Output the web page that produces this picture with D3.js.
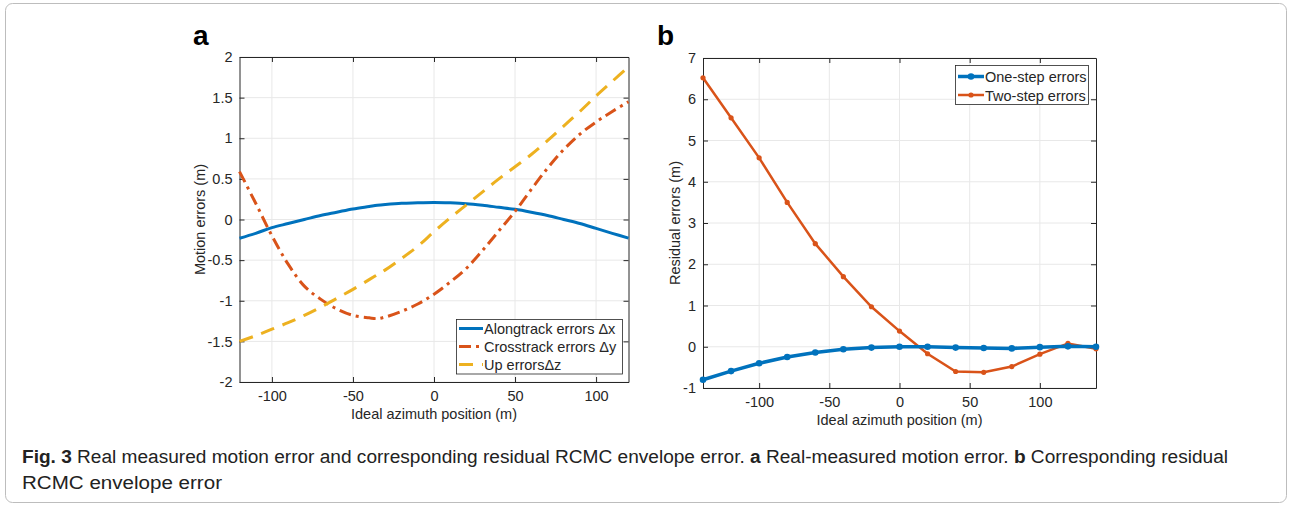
<!DOCTYPE html>
<html><head><meta charset="utf-8">
<script src="https://cdn.jsdelivr.net/npm/d3@7"></script>
<style>body{margin:0;background:#fff;} text{font-family:"Liberation Sans",Arial,sans-serif;}</style>
</head><body>
<svg id="c" width="1291" height="507"></svg>
<script>
// ---- Data panel a ----
const azA = [-120,-110,-100,-90,-80,-70,-60,-50,-40,-35,-30,-20,-10,0,10,20,30,40,50,60,70,80,90,100,110,120];
const alongtrack = [-0.23,-0.17,-0.1,-0.05,0.0,0.05,0.09,0.13,0.16,0.175,0.185,0.2,0.205,0.21,0.205,0.195,0.175,0.15,0.125,0.09,0.05,0.0,-0.05,-0.11,-0.17,-0.23];
const crosstrack = [0.59,0.2,-0.2,-0.55,-0.82,-0.98,-1.1,-1.18,-1.21,-1.22,-1.2,-1.13,-1.04,-0.92,-0.77,-0.6,-0.38,-0.14,0.1,0.37,0.63,0.86,1.05,1.2,1.33,1.45];
const uperr = [-1.5,-1.43,-1.35,-1.27,-1.18,-1.08,-0.97,-0.86,-0.74,-0.68,-0.62,-0.48,-0.33,-0.15,0.02,0.18,0.34,0.5,0.65,0.8,0.97,1.15,1.33,1.52,1.7,1.88];
const yTicksA = [-2,-1.5,-1,-0.5,0,0.5,1,1.5,2];
const xTicksA = [-100,-50,0,50,100];
// ---- Data panel b ----
const azB = [-140,-120,-100,-80,-60,-40,-20,0,20,40,60,80,100,120,140];
const oneStep = [-0.8,-0.59,-0.4,-0.25,-0.14,-0.06,-0.02,0,0,-0.02,-0.03,-0.04,-0.01,0.01,0];
const twoStep = [6.52,5.55,4.58,3.5,2.5,1.7,0.97,0.38,-0.17,-0.6,-0.62,-0.48,-0.18,0.08,-0.05];
const yTicksB = [-1,0,1,2,3,4,5,6,7];
const xTicksB = [-100,-50,0,50,100];

const C1="#0072BD", C2="#D95319", C3="#EDB120";
const svg = d3.select("#c");

svg.append("rect").attr("x",5.5).attr("y",3.5).attr("width",1281).attr("height",499)
  .attr("rx",7).attr("fill","none").attr("stroke","#bdbdbd").attr("stroke-width",1);

const fmt = d=>String(d);
function panel(o){
  const g = svg.append("g");
  const x = d3.scaleLinear().domain(o.xd).range([o.l,o.r]);
  const y = d3.scaleLinear().domain(o.yd).range([o.b,o.t]);
  g.append("g").selectAll("line").data(o.xt).join("line")
    .attr("x1",d=>x(d)).attr("x2",d=>x(d)).attr("y1",o.t).attr("y2",o.b)
    .attr("stroke","#e8e8e8").attr("stroke-width",1);
  g.append("g").selectAll("line").data(o.yt).join("line")
    .attr("y1",d=>y(d)).attr("y2",d=>y(d)).attr("x1",o.l).attr("x2",o.r)
    .attr("stroke","#e8e8e8").attr("stroke-width",1);
  const b = g.append("g").attr("transform",`translate(0,${o.b})`)
    .call(d3.axisBottom(x).tickValues(o.xt).tickSizeInner(-5).tickSizeOuter(0).tickPadding(9).tickFormat(fmt));
  const t = g.append("g").attr("transform",`translate(0,${o.t})`)
    .call(d3.axisTop(x).tickValues(o.xt).tickSizeInner(-5).tickSizeOuter(0).tickFormat(""));
  const lft = g.append("g").attr("transform",`translate(${o.l},0)`)
    .call(d3.axisLeft(y).tickValues(o.yt).tickSizeInner(-5).tickSizeOuter(0).tickPadding(7).tickFormat(fmt));
  const rgt = g.append("g").attr("transform",`translate(${o.r},0)`)
    .call(d3.axisRight(y).tickValues(o.yt).tickSizeInner(-5).tickSizeOuter(0).tickFormat(""));
  [b,t,lft,rgt].forEach(a=>{
    a.select(".domain").attr("stroke","#262626");
    a.selectAll(".tick line").attr("stroke","#262626");
    a.selectAll("text").attr("fill","#262626").attr("font-size",14.5).attr("font-family","Liberation Sans, Arial, sans-serif");
  });
  g.append("text").attr("x",(o.l+o.r)/2).attr("y",o.b+37).attr("text-anchor","middle")
    .attr("font-size",14.5).attr("fill","#262626").text(o.xl);
  g.append("text").attr("transform",`translate(${o.yx},${(o.t+o.b)/2}) rotate(-90)`)
    .attr("text-anchor","middle").attr("font-size",14.5).attr("fill","#262626").text(o.yl);
  g.append("text").attr("x",o.lx).attr("y",45).attr("font-size",28).attr("font-weight","bold").text(o.lab);
  const plot = g.append("g");
  return {x,y,plot,g};
}

// Panel a
const A = panel({xd:[-120,120], yd:[-2,2], l:239.5, r:628.5, t:57, b:382, xt:xTicksA, yt:yTicksA,
  xl:"Ideal azimuth position (m)", yl:"Motion errors (m)", yx:205, lx:193, lab:"a"});
const lineA = (arr)=>d3.line().x((d,i)=>A.x(azA[i])).y(d=>A.y(d)).curve(d3.curveCatmullRom.alpha(0.5))(arr);
A.plot.append("path").attr("d",lineA(alongtrack)).attr("fill","none").attr("stroke",C1).attr("stroke-width",3);
A.plot.append("path").attr("d",lineA(crosstrack)).attr("fill","none").attr("stroke",C2).attr("stroke-width",3)
  .attr("stroke-dasharray","12,5,3,5");
A.plot.append("path").attr("d",lineA(uperr)).attr("fill","none").attr("stroke",C3).attr("stroke-width",3)
  .attr("stroke-dasharray","14,9");
// legend a
const LA = A.g.append("g");
LA.append("rect").attr("x",456.5).attr("y",319.5).attr("width",166).attr("height",54.5)
  .attr("fill","#fff").attr("stroke","#262626").attr("stroke-width",0.8);
const legA = [{t:"Alongtrack errors Δx",c:C1,d:null},{t:"Crosstrack errors Δy",c:C2,d:"12,5,3,5"},{t:"Up errors\u0394z",c:C3,d:"14,9"}];
legA.forEach((e,i)=>{
  const yy = 328.5+i*18;
  LA.append("line").attr("x1",459).attr("x2",483).attr("y1",yy).attr("y2",yy)
    .attr("stroke",e.c).attr("stroke-width",3).attr("stroke-dasharray",e.d);
  LA.append("text").attr("x",484).attr("y",yy+5.5).attr("font-size",14.5).attr("fill","#262626").text(e.t);
});

// Panel b
const B = panel({xd:[-140,140], yd:[-1,7], l:703, r:1096, t:58, b:388, xt:xTicksB, yt:yTicksB,
  xl:"Ideal azimuth position (m)", yl:"Residual errors (m)", yx:680, lx:657, lab:"b"});
const lineB = d3.line().x((d,i)=>B.x(azB[i])).y(d=>B.y(d));
B.plot.append("path").attr("d",lineB(twoStep)).attr("fill","none").attr("stroke",C2).attr("stroke-width",2.5);
B.plot.append("g").selectAll("circle").data(twoStep).join("circle")
  .attr("cx",(d,i)=>B.x(azB[i])).attr("cy",d=>B.y(d)).attr("r",2.6).attr("fill",C2);
B.plot.append("path").attr("d",lineB(oneStep)).attr("fill","none").attr("stroke",C1).attr("stroke-width",3.5);
B.plot.append("g").selectAll("circle").data(oneStep).join("circle")
  .attr("cx",(d,i)=>B.x(azB[i])).attr("cy",d=>B.y(d)).attr("r",3.3).attr("fill",C1);
const LB = B.g.append("g");
LB.append("rect").attr("x",955.5).attr("y",65.5).attr("width",133).attr("height",39)
  .attr("fill","#fff").attr("stroke","#262626").attr("stroke-width",0.8);
[{t:"One-step errors",c:C1,w:3.5,r:3.3},{t:"Two-step errors",c:C2,w:2.5,r:2.6}].forEach((e,i)=>{
  const yy = 76.5+i*18.5;
  LB.append("line").attr("x1",958).attr("x2",984).attr("y1",yy).attr("y2",yy).attr("stroke",e.c).attr("stroke-width",e.w);
  LB.append("circle").attr("cx",971).attr("cy",yy).attr("r",e.r).attr("fill",e.c);
  LB.append("text").attr("x",985).attr("y",yy+5.5).attr("font-size",14.5).attr("fill","#262626").text(e.t);
});

// caption
const cap1 = svg.append("text").attr("x",22).attr("y",463).attr("font-size",18).attr("fill","#222")
  .attr("font-family","Liberation Sans Narrow, Liberation Sans, Arial, sans-serif")
  .attr("textLength",1206).attr("lengthAdjust","spacingAndGlyphs");
cap1.append("tspan").attr("font-weight","bold").text("Fig. 3");
cap1.append("tspan").text(" Real measured motion error and corresponding residual RCMC envelope error. ");
cap1.append("tspan").attr("font-weight","bold").text("a");
cap1.append("tspan").text(" Real-measured motion error. ");
cap1.append("tspan").attr("font-weight","bold").text("b");
cap1.append("tspan").text(" Corresponding residual");
svg.append("text").attr("x",22).attr("y",489).attr("font-size",18).attr("fill","#222")
  .attr("font-family","Liberation Sans Narrow, Liberation Sans, Arial, sans-serif")
  .attr("textLength",200).attr("lengthAdjust","spacingAndGlyphs").text("RCMC envelope error");
</script>
</body></html>
